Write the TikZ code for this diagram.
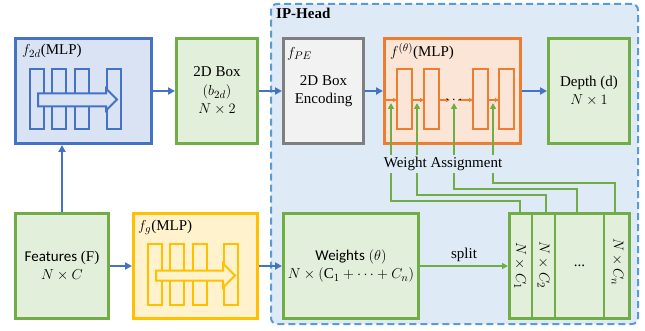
\documentclass[tikz,border=0pt]{standalone}
\usepackage{fontspec}
\setmainfont{Liberation Serif}
\newfontfamily\ipSans{Carlito}
\usetikzlibrary{
  arrows.meta,
  calc,
  positioning
}
\definecolor{ipBlue}{HTML}{4472C4}
\definecolor{ipBlueFill}{HTML}{DAE3F3}
\definecolor{ipGreen}{HTML}{70AD47}
\definecolor{ipGreenFill}{HTML}{E2EFDA}
\definecolor{ipGray}{HTML}{7F7F7F}
\definecolor{ipGrayFill}{HTML}{F2F2F2}
\definecolor{ipOrange}{HTML}{ED7D31}
\definecolor{ipOrangeFill}{HTML}{FBE5D6}
\definecolor{ipYellow}{HTML}{FFC000}
\definecolor{ipYellowFill}{HTML}{FFF2CC}
\definecolor{ipPanel}{HTML}{5B9BD5}
\definecolor{ipPanelFill}{HTML}{DEEBF7}
\newcommand{\ipFont}{\fontsize{15}{18.5}\selectfont}
\tikzset{
  ipBox/.style={
    draw,
    line width=2.6pt,
    minimum height=105.4pt,
    align=center,
    inner sep=2pt,
    font=\ipFont
  },
  dataBox/.style={ipBox, draw=ipGreen, fill=ipGreenFill},
  mlpBlueBox/.style={ipBox, draw=ipBlue, fill=ipBlueFill},
  mlpYellowBox/.style={ipBox, draw=ipYellow, fill=ipYellowFill},
  mlpOrangeBox/.style={ipBox, draw=ipOrange, fill=ipOrangeFill},
  encodeBox/.style={ipBox, draw=ipGray, fill=ipGrayFill},
  headPanel/.style={
    draw=ipPanel,
    fill=ipPanelFill,
    dash pattern=on 7pt off 4pt,
    line width=2pt,
    rounded corners=6pt,
    inner sep=0pt
  },
  boxLabel/.style={anchor=north west, inner sep=0pt, font=\ipFont},
  flowArrow/.style={-{Triangle[length=7pt,width=7pt]}, line width=1.8pt, ipBlue},
  assignLine/.style={line width=1.8pt, ipGreen},
  assignArrow/.style={assignLine, -{Triangle[length=6pt,width=6pt]}},
  layerBar/.style={line width=2pt},
  layerArrow/.style={-{Triangle[length=4pt,width=4pt]}, line width=1.2pt, ipOrange}
}

\begin{document}
\begin{tikzpicture}[x=1pt,y=-1pt]
  \useasboundingbox (0,0) rectangle (645,331);

  % IP-Head panel
  \node[headPanel, minimum width=367pt, minimum height=320pt] (panel) at (454.5,164) {};
  \node[boxLabel, font=\ipFont\bfseries] (panelLabel) at (276,8) {IP-Head};

  % top row
  \node[mlpBlueBox, minimum width=136.4pt] (f2d) at (83.5,91) {};
  \node[dataBox, minimum width=81.4pt, right=22pt of f2d] (box2d)
    {2D Box\\ $(b_{2d})$\\ $N\times 2$};
  \node[encodeBox, minimum width=80.4pt, right=23pt of box2d] (fpe)
    {2D Box\\ Encoding};
  \node[mlpOrangeBox, minimum width=136.4pt, right=18pt of fpe] (ftheta) {};
  \node[dataBox, minimum width=81.4pt, right=25pt of ftheta] (depth)
    {Depth (d)\\ $N\times 1$};

  % bottom row
  \node[dataBox, minimum width=93.4pt] (feat) at (62,266)
    {{\ipSans Features} (F)\\ $N\times C$};
  \node[mlpYellowBox, minimum width=124.4pt, right=22pt of feat] (fg) {};
  \node[dataBox, minimum width=135.4pt, right=23pt of fg] (weights)
    {{\ipSans Weights} $(\theta)$\\ $N\times(\mathrm{C}_1+\cdots+C_n)$};
  \node[dataBox, minimum width=120.4pt, right=88pt of weights] (split) {};

  % box labels
  \node[boxLabel] (f2dLabel) at ($(f2d.north west)+(8,7)$) {$f_{2d}$(MLP)};
  \node[boxLabel] (fpeLabel) at ($(fpe.north west)+(5,10)$) {$f_{PE}$};
  \node[boxLabel] (fthetaLabel) at ($(ftheta.north west)+(7,6)$) {$f^{(\theta)}$(MLP)};
  \node[boxLabel] (fgLabel) at ($(fg.north west)+(6,8)$) {$f_g$(MLP)};

  % layers of f_2d and f_g
  \foreach \bx in {29,51,74,106} {
    \draw[layerBar, ipBlue] (\bx+1,69) rectangle ++(14,60);
  }
  \draw[layerBar, ipBlue, fill=ipBlueFill]
    (38,93.5) -- (106,93.5) -- (106,88.5) -- (117,99.5) -- (106,110.5)
    -- (106,106.5) -- (38,106.5) -- cycle;
  \foreach \bx in {147,169,192,223} {
    \draw[layerBar, ipYellow] (\bx+1,244) rectangle ++(14,61);
  }
  \draw[layerBar, ipYellow, fill=ipYellowFill]
    (156,270.5) -- (223,270.5) -- (223,263.5) -- (235,275.5) -- (223,287.5)
    -- (223,280.5) -- (156,280.5) -- cycle;

  % layers of f^(theta)
  \foreach \bx in {396,423,472,498} {
    \draw[layerBar, ipOrange] (\bx+1,69) rectangle ++(15,60);
  }
  \foreach \ax/\bx in {386/397,413/424,439/450,458/473,488/499} {
    \draw[layerArrow] (\ax,100) -- (\bx,100);
  }
  \node[inner sep=0pt, font=\ipFont] (layerDots) at (454,100) {$\cdots$};

  % split columns
  \foreach \cx in {532,555,604} {
    \draw[ipGreen, line width=1.4pt] (split.north -| \cx,0) -- (split.south -| \cx,0);
  }
  \node[rotate=-90, font=\ipFont] (colA) at (520,266) {$N\times C_1$};
  \node[rotate=-90, font=\ipFont] (colB) at (543.5,265) {$N\times C_2$};
  \node[font=\ipFont] (colC) at (579.5,266) {...};
  \node[rotate=-90, font=\ipFont] (colD) at (617.5,262) {$N\times C_n$};

  % flow arrows
  \draw[flowArrow] (f2d) -- (box2d);
  \draw[flowArrow] (box2d) -- (fpe);
  \draw[flowArrow] (fpe) -- (ftheta);
  \draw[flowArrow] (ftheta) -- (depth);
  \draw[flowArrow] (feat.north) -- (feat.north |- f2d.south);
  \draw[flowArrow] (feat) -- (fg);
  \draw[flowArrow] (fg) -- (weights);
  \draw[assignArrow] (weights) -- node[above, text=black, font=\ipFont, inner sep=3pt] (splitLabel) {split} (split);

  % weight assignment
  \node[font=\ipFont, inner sep=2pt] (wa) at (443,164) {Weight Assignment};
  \coordinate (in1) at (391,103);
  \coordinate (in2) at (417,103);
  \coordinate (in3) at (454,103);
  \coordinate (in4) at (493,103);
  \coordinate (t1) at (520,201);
  \coordinate (t2) at (546,195);
  \coordinate (t3) at (577,189);
  \coordinate (t4) at (615,183);
  \foreach \i in {1,2,3,4} {
    \draw[assignArrow] (wa.north -| in\i) -- (in\i);
    \draw[assignLine] (wa.south -| in\i) |- (t\i) -- (t\i |- split.north);
  }
\end{tikzpicture}
\end{document}
